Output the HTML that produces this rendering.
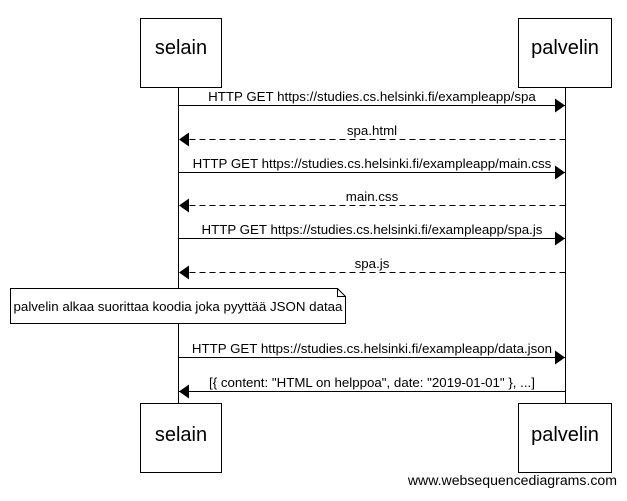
<!DOCTYPE html>
<html><head><meta charset="utf-8"><style>body{margin:0;background:#fff}</style></head><body>
<svg width="627" height="496" xmlns="http://www.w3.org/2000/svg" font-family="Liberation Sans, sans-serif">
<defs>
<marker id="a" markerWidth="10" markerHeight="14" refX="10" refY="7" orient="auto" markerUnits="userSpaceOnUse"><path d="M0,0 L10,7 L0,14 z" fill="#000"/></marker>
</defs>
<g stroke="#000" fill="none" stroke-width="1">
<line x1="178.5" y1="87" x2="178.5" y2="404"/>
<line x1="565.5" y1="87" x2="565.5" y2="404"/>
<rect x="140.5" y="18.5" width="81" height="69" fill="#fff"/>
<rect x="518.5" y="18.5" width="93" height="69" fill="#fff"/>
<rect x="140.5" y="403.5" width="81" height="69" fill="#fff"/>
<rect x="518.5" y="403.5" width="93" height="69" fill="#fff"/>
<line x1="178.5" y1="105.5" x2="565" y2="105.5" marker-end="url(#a)"/>
<line x1="565.5" y1="139.5" x2="179" y2="139.5" stroke-dasharray="6,4" marker-end="url(#a)"/>
<line x1="178.5" y1="172.5" x2="565" y2="172.5" marker-end="url(#a)"/>
<line x1="565.5" y1="205.5" x2="179" y2="205.5" stroke-dasharray="6,4" marker-end="url(#a)"/>
<line x1="178.5" y1="238.5" x2="565" y2="238.5" marker-end="url(#a)"/>
<line x1="565.5" y1="272.5" x2="179" y2="272.5" stroke-dasharray="6,4" marker-end="url(#a)"/>
<path d="M10.5,288.5 H337.5 L345.5,296.5 V323.5 H10.5 Z" fill="#fff"/>
<path d="M337.5,288.5 V296.5 H345.5"/>
<line x1="178.5" y1="357.5" x2="565" y2="357.5" marker-end="url(#a)"/>
<line x1="565.5" y1="391.5" x2="179" y2="391.5" marker-end="url(#a)"/>
</g>
<g font-size="20" text-anchor="middle">
<text x="181" y="54">selain</text><text x="565" y="54">palvelin</text>
<text x="181" y="441">selain</text><text x="565" y="441">palvelin</text>
</g>
<g font-size="13.3" text-anchor="middle">
<text x="372" y="101">HTTP GET https://studies.cs.helsinki.fi/exampleapp/spa</text>
<text x="372" y="135">spa.html</text>
<text x="372" y="168">HTTP GET https://studies.cs.helsinki.fi/exampleapp/main.css</text>
<text x="372" y="201">main.css</text>
<text x="372" y="234">HTTP GET https://studies.cs.helsinki.fi/exampleapp/spa.js</text>
<text x="372" y="268">spa.js</text>
<text x="178" y="311">palvelin alkaa suorittaa koodia joka pyyttää JSON dataa</text>
<text x="372" y="353">HTTP GET https://studies.cs.helsinki.fi/exampleapp/data.json</text>
<text x="372" y="387">[{ content: "HTML on helppoa", date: "2019-01-01" }, ...]</text>
<text x="617" y="485" text-anchor="end" font-size="14.1">www.websequencediagrams.com</text>
</g>
</svg>
</body></html>
